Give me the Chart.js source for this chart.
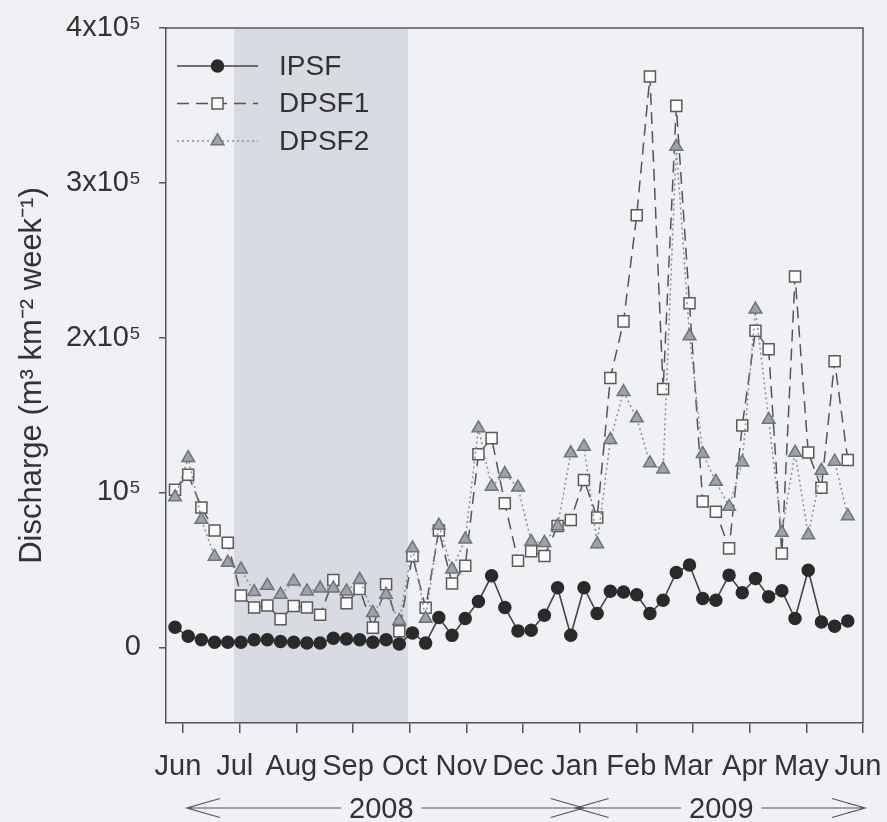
<!DOCTYPE html>
<html><head><meta charset="utf-8">
<script src="https://cdn.jsdelivr.net/npm/chart.js@4"></script>
<style>html,body{margin:0;padding:0;background:#eff1f5;} canvas{display:block;}</style>
</head><body>
<canvas id="c" width="887" height="822"></canvas>
<script>
// x: months after 1 Jun 2008; weekly samples
const monthLabels = ['Jun','Jul','Aug','Sep','Oct','Nov','Dec','Jan','Feb','Mar','Apr','May','Jun'];
const yearLabels = ['2008','2009'];
const yearSpans = [[0, 7], [7, 12]];
const yTickValues = [0, 100, 200, 300, 400]; // in 10^3 m3 km-2 week-1
const yTickLabels = ['0', '10⁵', '2x10⁵', '3x10⁵', '4x10⁵'];
const firstWeek = -0.141;
const weekStep = 0.2328;
const dryPeriod = [0.9, 3.97];

// discharge, 10^3 m3 km-2 week-1
const ipsf = [12.9,7.1,4.9,3.2,3.2,3.2,4.9,4.9,3.7,3.2, 2.8,2.8,5.8,5.4,4.9,3.2,4.9,2.2,9.3,2.7,
  19.2,7.7,18.6,29.6,46.2,25.7,10.6,11.0,20.7,38.4, 7.8,38.4,21.8,36.2,35.7,33.9,21.8,30.4,48.3,53.1,
  31.5,30.4,46.6,35.2,44.4,32.6,36.5,18.6,49.8,16.4, 13.6,17.0];
const dpsf1 = [101.7,111.5,90.3,75.5,67.5,33.5,25.7,27.0,18.2,26.7, 25.7,21.0,43.5,28.5,37.7,12.7,40.7,10.3,58.9,25.6,
  75.5,41.2,52.6,124.7,135.1,93.0,55.9,62.1,58.9,78.3, 82.2,108.1,83.9,174.0,210.5,279.0,368.7,166.8,349.7,222.2,
  94.1,87.6,63.9,143.3,204.5,192.5,60.6,239.5,125.8,103.1, 184.7,121.0];
const dpsf2 = [97.0,122.3,82.5,58.6,54.7,50.4,35.8,39.8,34.0,42.6, 36.2,38.1,38.1,36.2,43.7,22.2,34.0,17.0,64.0,18.6,
  78.7,50.3,69.7,141.5,103.8,112.0,103.3,68.2,67.5,78.3, 125.4,129.7,66.7,134.0,165.0,148.0,118.9,115.0,323.4,201.0,
  124.9,107.0,90.8,119.5,218.3,147.0,74.0,125.8,72.5,114.1, 120.0,84.8];

const FONT = "'Liberation Sans', Arial, sans-serif";
const TXT = '#333333';
Chart.defaults.font.family = FONT;

const toPts = arr => arr.map((v, i) => ({x: firstWeek + i * weekStep, y: v}));

const styles = [
  {label: 'IPSF', line: '#444444', dash: [], pStyle: 'circle', r: 6, fill: '#2a2a2a', stroke: '#2a2a2a', bw: 1.6},
  {label: 'DPSF1', line: '#555555', dash: [12, 7], pStyle: 'rect', r: 7.8, fill: '#fbfbfb', stroke: '#5a5a5a', bw: 1.5},
  {label: 'DPSF2', line: '#8a8d93', dash: [2, 3], pStyle: 'triangle', r: 7.3, fill: '#9ea2a9', stroke: '#6f737a', bw: 1.5}
];
const series = [ipsf, dpsf1, dpsf2];

function drawMarker(g, s, cx, cy) {
  g.fillStyle = s.fill; g.strokeStyle = s.stroke; g.lineWidth = 1.5; g.setLineDash([]);
  g.beginPath();
  if (s.pStyle === 'circle') { g.arc(cx, cy, s.r, 0, Math.PI * 2); }
  else if (s.pStyle === 'rect') { const h = s.r * Math.SQRT1_2; g.rect(cx - h, cy - h, 2 * h, 2 * h); }
  else { for (let k = 0; k < 3; k++) { const a = k * 2 * Math.PI / 3; const px = cx + Math.sin(a) * s.r, py = cy - Math.cos(a) * s.r; k ? g.lineTo(px, py) : g.moveTo(px, py); } g.closePath(); }
  g.fill(); g.stroke();
}

const legendPlugin = {
  id: 'insideLegend',
  afterDatasetsDraw(chart) {
    const {ctx, chartArea: {left, top}} = chart;
    ctx.save();
    ctx.font = '28px ' + FONT; ctx.textBaseline = 'middle'; ctx.textAlign = 'left';
    styles.forEach((s, i) => {
      const y = top + 38 + i * 37.5;
      const x0 = left + 11, x1 = left + 92, xm = (x0 + x1) / 2;
      ctx.strokeStyle = s.line; ctx.lineWidth = s.bw; ctx.setLineDash(s.dash);
      ctx.beginPath(); ctx.moveTo(x0, y); ctx.lineTo(x1, y); ctx.stroke();
      drawMarker(ctx, s, xm, y);
      ctx.fillStyle = TXT;
      ctx.fillText(s.label, left + 113, y + 1);
    });
    ctx.restore();
  }
};

const bandPlugin = {
  id: 'band',
  beforeDatasetsDraw(chart) {
    const {ctx, chartArea: {top, bottom}, scales: {x}} = chart;
    const x0 = x.getPixelForValue(dryPeriod[0]), x1 = x.getPixelForValue(dryPeriod[1]);
    ctx.save(); ctx.fillStyle = '#d9dbe3'; ctx.fillRect(x0, top + 1, x1 - x0, bottom - top - 2); ctx.restore();
  }
};
const framePlugin = {
  id: 'frame',
  afterDatasetsDraw(chart) {
    const {ctx, chartArea: {top, bottom, left, right}} = chart;
    ctx.save(); ctx.strokeStyle = '#555'; ctx.lineWidth = 1.5;
    ctx.beginPath(); ctx.moveTo(left, top); ctx.lineTo(right, top); ctx.lineTo(right, bottom); ctx.stroke();
    ctx.restore();
  }
};
const yearPlugin = {
  id: 'years',
  afterDraw(chart) {
    const {ctx, scales: {x}} = chart;
    const y = 808;
    ctx.save();
    ctx.font = '29px ' + FONT; ctx.fillStyle = TXT; ctx.strokeStyle = '#555'; ctx.lineWidth = 1.2;
    ctx.textAlign = 'center'; ctx.textBaseline = 'middle';
    yearLabels.forEach((lab, i) => {
      const a = x.getPixelForValue(yearSpans[i][0]), b = x.getPixelForValue(yearSpans[i][1]);
      const mid = (a + b) / 2;
      const w = ctx.measureText(lab).width;
      ctx.fillText(lab, mid, y + 2);
      const l0 = a + (i === 0 ? 4 : -4), l1 = mid - w / 2 - 8, r0 = mid + w / 2 + 8, r1 = b + (i === 0 ? 4 : 2);
      ctx.beginPath();
      ctx.moveTo(l0, y); ctx.lineTo(l1, y);
      ctx.moveTo(l0 + 33, y - 9.5); ctx.lineTo(l0, y); ctx.lineTo(l0 + 33, y + 9.5);
      ctx.moveTo(r0, y); ctx.lineTo(r1, y);
      ctx.moveTo(r1 - 33, y - 9.5); ctx.lineTo(r1, y); ctx.lineTo(r1 - 33, y + 9.5);
      ctx.stroke();
    });
    ctx.restore();
  }
};

const noPad = s => { s.paddingTop = 0; s.paddingBottom = 0; s.paddingLeft = 0; s.paddingRight = 0; };

new Chart(document.getElementById('c').getContext('2d'), {
  type: 'line',
  data: {
    datasets: styles.map((s, i) => ({
      label: s.label, data: toPts(series[i]),
      borderColor: s.line, borderWidth: s.bw, borderDash: s.dash, tension: 0, fill: false,
      pointStyle: s.pStyle, pointRadius: s.r, pointBackgroundColor: s.fill,
      pointBorderColor: s.stroke, pointBorderWidth: 1.5,
      order: [0, 2, 1][i]
    }))
  },
  options: {
    responsive: false, animation: false, events: [],
    layout: {padding: {top: 28, right: 24, left: 0, bottom: 0}, autoPadding: false},
    scales: {
      x: {
        type: 'linear', min: -0.3, max: 12,
        afterBuildTicks: s => { s.ticks = monthLabels.map((_, i) => ({value: i})); },
        ticks: {callback: (v, i) => monthLabels[i], font: {size: 29}, color: TXT, padding: 17,
          labelOffset: -5, maxRotation: 0, autoSkip: false},
        grid: {display: true, drawOnChartArea: false, tickLength: 10, color: '#555', lineWidth: 1.5},
        border: {display: true, color: '#555', width: 1.5},
        afterFit: s => { s.height = 99; noPad(s); }
      },
      y: {
        min: -48.9, max: 400,
        afterBuildTicks: s => { s.ticks = yTickValues.map(v => ({value: v})); },
        ticks: {callback: (v, i) => yTickLabels[i], font: {size: 29}, color: TXT, padding: 18},
        grid: {display: true, drawOnChartArea: false, tickLength: 7, color: '#555', lineWidth: 1.5},
        border: {display: true, color: '#555', width: 1.5},
        title: {display: true, text: 'Discharge (m³ km⁻² week⁻¹)', font: {size: 31}, color: TXT,
          padding: {top: 14, bottom: 0}},
        afterFit: s => { s.width = 166; noPad(s); }
      }
    },
    plugins: {
      tooltip: {enabled: false},
      legend: {display: false}
    }
  },
  plugins: [bandPlugin, framePlugin, legendPlugin, yearPlugin]
});
</script>
</body></html>
